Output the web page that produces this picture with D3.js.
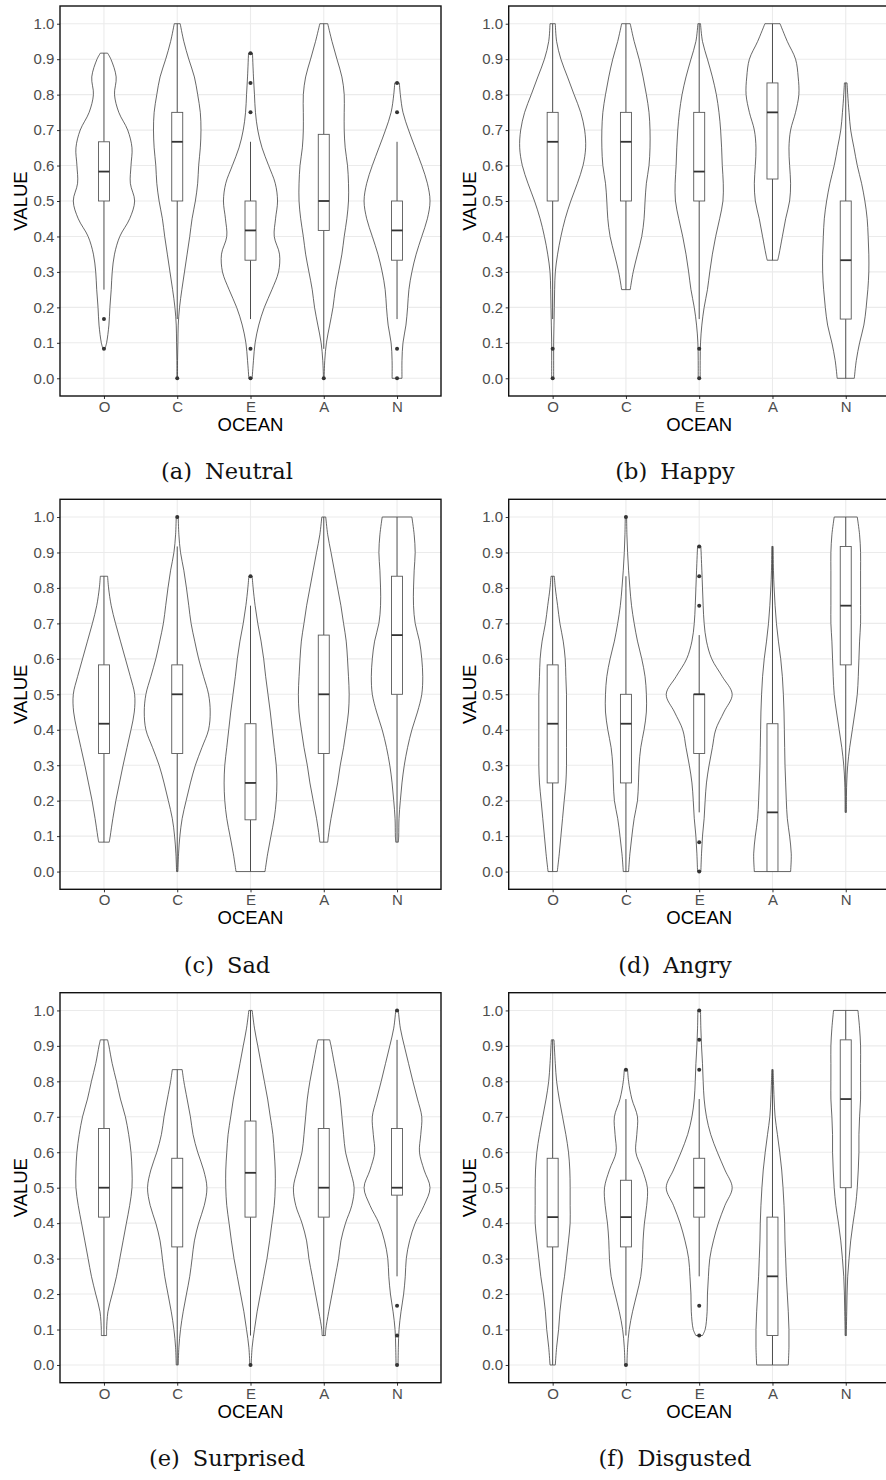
<!DOCTYPE html>
<html>
<head>
<meta charset="utf-8">
<script src="https://cdn.jsdelivr.net/npm/d3@7"></script>
<style>
body { margin: 0; background: #fff; }
</style>
</head>
<body>
<div id="chart"></div>
<script>
// categories and ticks
var traits = ["O", "C", "E", "A", "N"];
var yTicks = [0, 0.1, 0.2, 0.3, 0.4, 0.5, 0.6, 0.7, 0.8, 0.9, 1.0];
var labels = ["(a)", "(b)", "(c)", "(d)", "(e)", "(f)"];
var emotions = ["Neutral", "Happy", "Sad", "Angry", "Surprised", "Disgusted"];

// violin outlines: [value, scaled density 0-100] per trait
// box: [lower whisker, q1, median, q3, upper whisker]
var neutralViolin = [
	[[0.083,3],[0.1,8],[0.15,15],[0.2,18],[0.25,22],[0.3,25],[0.35,32],[0.4,48],[0.45,78],[0.5,93],[0.55,80],[0.6,82],[0.65,85],[0.7,72],[0.75,45],[0.8,32],[0.85,37],[0.9,21],[0.917,11]],
	[[0,1],[0.05,1],[0.1,2],[0.15,3],[0.2,7],[0.25,14],[0.3,22],[0.35,30],[0.4,38],[0.45,45],[0.5,55],[0.55,62],[0.6,65],[0.65,70],[0.7,72],[0.75,70],[0.8,62],[0.85,52],[0.9,35],[0.95,20],[1,9]],
	[[0,5],[0.05,9],[0.1,14],[0.15,25],[0.2,42],[0.25,65],[0.3,85],[0.35,88],[0.4,72],[0.45,76],[0.5,82],[0.55,75],[0.6,55],[0.65,35],[0.7,22],[0.75,15],[0.8,12],[0.85,9],[0.917,6]],
	[[0,1],[0.05,3],[0.1,8],[0.15,18],[0.2,28],[0.25,35],[0.3,45],[0.35,55],[0.4,62],[0.45,70],[0.5,75],[0.55,75],[0.6,72],[0.65,65],[0.7,62],[0.75,62],[0.8,62],[0.85,55],[0.9,40],[0.95,25],[1,12]],
	[[0,15],[0.05,15],[0.1,18],[0.15,27],[0.2,32],[0.25,36],[0.3,45],[0.35,58],[0.4,75],[0.45,92],[0.5,100],[0.55,92],[0.6,75],[0.65,55],[0.7,35],[0.75,18],[0.8,10],[0.833,7]]
];
var neutralBox = [[0.25,0.5,0.583,0.667,0.917],[0.167,0.5,0.667,0.75,1],[0.167,0.333,0.417,0.5,0.667],[0.083,0.417,0.5,0.688,1],[0.167,0.333,0.417,0.5,0.667]];
var neutralOut = [[0.167,0.083],[0],[0.917,0.833,0.75,0.083,0],[0],[0.833,0.75,0.083,0]];

var happyViolin = [
	[[0,3],[0.05,3],[0.1,3],[0.15,4],[0.2,5],[0.25,6],[0.3,8],[0.35,15],[0.4,25],[0.45,38],[0.5,55],[0.55,75],[0.6,92],[0.65,100],[0.7,97],[0.75,85],[0.8,65],[0.85,45],[0.9,25],[0.95,12],[1,8]],
	[[0.25,13],[0.3,22],[0.35,35],[0.4,48],[0.45,55],[0.5,58],[0.55,62],[0.6,70],[0.65,73],[0.7,73],[0.75,70],[0.8,62],[0.85,52],[0.9,40],[0.95,25],[1,13]],
	[[0,3],[0.05,3],[0.1,4],[0.15,8],[0.2,15],[0.25,25],[0.3,32],[0.35,40],[0.4,50],[0.45,62],[0.5,72],[0.55,73],[0.6,70],[0.65,68],[0.7,65],[0.75,60],[0.8,52],[0.85,40],[0.9,25],[0.95,10],[1,4]],
	[[0.333,16],[0.35,20],[0.4,30],[0.45,40],[0.5,52],[0.55,55],[0.6,52],[0.65,50],[0.7,55],[0.75,70],[0.8,80],[0.85,78],[0.9,70],[0.95,45],[1,23]],
	[[0,26],[0.05,32],[0.1,42],[0.15,55],[0.2,62],[0.25,67],[0.3,70],[0.35,70],[0.4,68],[0.45,65],[0.5,58],[0.55,48],[0.6,35],[0.65,25],[0.7,15],[0.75,10],[0.8,6],[0.833,4]]
];
var happyBox = [[0.167,0.5,0.667,0.75,1],[0.25,0.5,0.667,0.75,1],[0.167,0.5,0.583,0.75,1],[0.333,0.562,0.75,0.833,1],[0,0.167,0.333,0.5,0.833]];
var happyOut = [[0.083,0],[],[0.083,0],[],[]];

var sadViolin = [
	[[0.083,16],[0.1,19],[0.15,27],[0.2,36],[0.25,47],[0.3,58],[0.35,70],[0.4,82],[0.45,92],[0.5,93],[0.55,80],[0.6,65],[0.65,50],[0.7,35],[0.75,22],[0.8,14],[0.833,11]],
	[[0,2],[0.05,4],[0.1,8],[0.15,15],[0.2,27],[0.25,40],[0.3,55],[0.35,75],[0.4,95],[0.45,100],[0.5,95],[0.55,80],[0.6,65],[0.65,53],[0.7,42],[0.75,35],[0.8,28],[0.85,20],[0.9,10],[0.95,5],[1,3]],
	[[0,44],[0.05,52],[0.1,62],[0.15,72],[0.2,78],[0.25,80],[0.3,78],[0.35,72],[0.4,66],[0.45,60],[0.5,53],[0.55,46],[0.6,40],[0.65,32],[0.7,22],[0.75,14],[0.8,8],[0.833,5]],
	[[0.083,12],[0.1,14],[0.15,22],[0.2,32],[0.25,42],[0.3,50],[0.35,60],[0.4,68],[0.45,75],[0.5,77],[0.55,75],[0.6,72],[0.65,68],[0.7,60],[0.75,52],[0.8,42],[0.85,32],[0.9,22],[0.95,12],[1,6]],
	[[0.083,4],[0.1,5],[0.15,6],[0.2,10],[0.25,15],[0.3,22],[0.35,32],[0.4,45],[0.45,62],[0.5,75],[0.55,78],[0.6,75],[0.65,68],[0.7,55],[0.75,50],[0.8,50],[0.85,52],[0.9,55],[0.95,52],[1,45]]
];
var sadBox = [[0.083,0.333,0.417,0.583,0.833],[0,0.333,0.5,0.583,0.917],[0,0.146,0.25,0.417,0.75],[0.083,0.333,0.5,0.667,1],[0.083,0.5,0.667,0.833,1]];
var sadOut = [[],[1],[0.833],[],[]];

var angryViolin = [
	[[0,14],[0.05,20],[0.1,25],[0.15,30],[0.2,35],[0.25,40],[0.3,42],[0.35,42],[0.4,42],[0.45,42],[0.5,42],[0.55,40],[0.6,38],[0.65,32],[0.7,22],[0.75,15],[0.8,8],[0.833,5]],
	[[0,8],[0.05,12],[0.1,18],[0.15,25],[0.2,35],[0.25,38],[0.3,40],[0.35,45],[0.4,55],[0.45,62],[0.5,62],[0.55,58],[0.6,48],[0.65,35],[0.7,25],[0.75,17],[0.8,12],[0.85,8],[0.9,5],[0.95,3],[1,2]],
	[[0,5],[0.05,7],[0.1,10],[0.15,15],[0.2,18],[0.25,22],[0.3,30],[0.35,40],[0.4,50],[0.45,75],[0.5,100],[0.55,70],[0.6,38],[0.65,22],[0.7,15],[0.75,12],[0.8,10],[0.85,8],[0.917,5]],
	[[0,55],[0.05,57],[0.1,52],[0.15,45],[0.2,42],[0.25,40],[0.3,38],[0.35,37],[0.4,36],[0.45,35],[0.5,33],[0.55,30],[0.6,25],[0.65,18],[0.7,12],[0.75,8],[0.8,5],[0.85,3],[0.917,2]],
	[[0.167,2],[0.2,2],[0.25,3],[0.3,6],[0.35,12],[0.4,20],[0.45,28],[0.5,35],[0.55,38],[0.6,40],[0.65,42],[0.7,45],[0.75,45],[0.8,45],[0.85,45],[0.9,45],[0.95,42],[1,35]]
];
var angryBox = [[0,0.25,0.417,0.583,0.833],[0,0.25,0.417,0.5,0.833],[0.167,0.333,0.5,0.5,0.667],[0,0,0.167,0.417,0.917],[0.167,0.583,0.75,0.917,1]];
var angryOut = [[],[1],[0.917,0.833,0.75,0.083,0],[],[]];

var surprisedViolin = [
	[[0.083,8],[0.1,8],[0.15,12],[0.2,25],[0.25,38],[0.3,48],[0.35,58],[0.4,68],[0.45,78],[0.5,85],[0.55,85],[0.6,82],[0.65,75],[0.7,65],[0.75,50],[0.8,38],[0.85,25],[0.9,15],[0.917,11]],
	[[0,3],[0.05,5],[0.1,10],[0.15,18],[0.2,28],[0.25,38],[0.3,45],[0.35,52],[0.4,65],[0.45,82],[0.5,90],[0.55,80],[0.6,62],[0.65,48],[0.7,40],[0.75,30],[0.8,20],[0.833,15]],
	[[0,2],[0.05,5],[0.1,12],[0.15,20],[0.2,30],[0.25,40],[0.3,50],[0.35,58],[0.4,65],[0.45,72],[0.5,75],[0.55,75],[0.6,72],[0.65,68],[0.7,60],[0.75,52],[0.8,42],[0.85,32],[0.9,22],[0.95,12],[1,5]],
	[[0.083,5],[0.1,6],[0.15,15],[0.2,25],[0.25,35],[0.3,45],[0.35,52],[0.4,66],[0.45,85],[0.5,92],[0.55,80],[0.6,66],[0.65,60],[0.7,55],[0.75,50],[0.8,42],[0.85,32],[0.9,22],[0.917,18]],
	[[0,3],[0.05,4],[0.1,6],[0.15,12],[0.2,20],[0.25,25],[0.3,28],[0.35,38],[0.4,55],[0.45,82],[0.5,100],[0.55,82],[0.6,68],[0.65,72],[0.7,75],[0.75,62],[0.8,48],[0.85,35],[0.9,22],[0.95,10],[1,4]]
];
var surprisedBox = [[0.083,0.417,0.5,0.667,0.917],[0,0.333,0.5,0.583,0.833],[0.083,0.417,0.542,0.688,1],[0.083,0.417,0.5,0.667,0.917],[0.25,0.479,0.5,0.667,0.917]];
var surprisedOut = [[],[],[0],[],[1,0.167,0.083,0]];

var disgustedViolin = [
	[[0,8],[0.05,12],[0.1,18],[0.15,22],[0.2,28],[0.25,36],[0.3,42],[0.35,48],[0.4,53],[0.45,53],[0.5,53],[0.55,52],[0.6,48],[0.65,40],[0.7,30],[0.75,20],[0.8,12],[0.85,8],[0.917,4]],
	[[0,3],[0.05,5],[0.1,10],[0.15,20],[0.2,33],[0.25,45],[0.3,50],[0.35,52],[0.4,56],[0.45,63],[0.5,65],[0.55,50],[0.6,30],[0.65,33],[0.7,35],[0.75,18],[0.8,8],[0.833,5]],
	[[0.083,10],[0.1,18],[0.15,24],[0.2,25],[0.25,28],[0.3,32],[0.35,43],[0.4,58],[0.45,78],[0.5,100],[0.55,78],[0.6,55],[0.65,35],[0.7,22],[0.75,15],[0.8,12],[0.85,10],[0.9,7],[0.95,5],[1,4]],
	[[0,48],[0.05,50],[0.1,50],[0.15,48],[0.2,45],[0.25,42],[0.3,40],[0.35,38],[0.4,37],[0.45,35],[0.5,32],[0.55,28],[0.6,22],[0.65,15],[0.7,8],[0.75,5],[0.8,3],[0.833,2]],
	[[0.083,2],[0.1,2],[0.15,3],[0.2,4],[0.25,6],[0.3,10],[0.35,15],[0.4,22],[0.45,30],[0.5,35],[0.55,38],[0.6,40],[0.65,40],[0.7,42],[0.75,45],[0.8,45],[0.85,45],[0.9,45],[0.95,42],[1,37]]
];
var disgustedBox = [[0,0.333,0.417,0.583,0.917],[0.083,0.333,0.417,0.521,0.75],[0.25,0.417,0.5,0.583,0.75],[0,0.083,0.25,0.417,0.833],[0.083,0.5,0.75,0.917,1]];
var disgustedOut = [[],[0.833,0],[1,0.917,0.833,0.167,0.083],[],[]];

var violins = [neutralViolin, happyViolin, sadViolin, angryViolin, surprisedViolin, disgustedViolin];
var boxes = [neutralBox, happyBox, sadBox, angryBox, surprisedBox, disgustedBox];
var outliers = [neutralOut, happyOut, sadOut, angryOut, surprisedOut, disgustedOut];

// page layout
var svg = d3.select("#chart")
	.append("svg")
		.attr("width", 886)
		.attr("height", 1480)
		.style("display", "block");

var panelW = 381, panelH = 390;
var colLeft = [60, 508.7];
var rowTop = [6, 499.3, 992.7];
var captionX = [227, 675];

function drawPanel(i) {
	var col = i % 2, row = Math.floor(i / 2);
	var left = colLeft[col], top = rowTop[row];
	var g = svg.append("g")
		.attr("transform", "translate(" + left + "," + top + ")");

	var x = d3.scalePoint()
		.domain(traits)
		.range([0, panelW])
		.padding(0.6);

	var y = d3.scaleLinear()
		.domain([-0.05, 1.05])
		.range([panelH, 0]);

	// violin half width, 100 = 0.45 of the category step
	var w = d3.scaleLinear()
		.domain([0, 100])
		.range([0, 0.45 * x.step()]);

	var boxW = 0.15 * x.step();

	// grid
	g.selectAll(".hgrid")
		.data(yTicks)
		.enter().append("line")
		.attr("x1", 0).attr("x2", panelW)
		.attr("y1", function(d){ return y(d) })
		.attr("y2", function(d){ return y(d) })
		.attr("stroke", "#ebebeb")
		.attr("stroke-width", 1.1);

	g.selectAll(".vgrid")
		.data(traits)
		.enter().append("line")
		.attr("y1", 0).attr("y2", panelH)
		.attr("x1", function(d){ return x(d) })
		.attr("x2", function(d){ return x(d) })
		.attr("stroke", "#ebebeb")
		.attr("stroke-width", 1.1);

	// violins
	traits.forEach(function(t, k){
		var cx = x(t);
		var area = d3.area()
			.y(function(d){ return y(d[0]) })
			.x0(function(d){ return cx - w(d[1]) })
			.x1(function(d){ return cx + w(d[1]) })
			.curve(d3.curveCatmullRom);

		g.append("path")
			.datum(violins[i][k])
			.attr("d", area)
			.attr("fill", "#fff")
			.attr("stroke", "#262626")
			.attr("stroke-width", 0.7);

		var b = boxes[i][k];

		// whiskers
		g.append("line")
			.attr("x1", cx).attr("x2", cx)
			.attr("y1", y(b[3])).attr("y2", y(b[4]))
			.attr("stroke", "#4d4d4d")
			.attr("stroke-width", 1);
		g.append("line")
			.attr("x1", cx).attr("x2", cx)
			.attr("y1", y(b[1])).attr("y2", y(b[0]))
			.attr("stroke", "#4d4d4d")
			.attr("stroke-width", 1);

		// box
		g.append("rect")
			.attr("x", cx - boxW / 2)
			.attr("width", boxW)
			.attr("y", y(b[3]))
			.attr("height", Math.max(0, y(b[1]) - y(b[3])))
			.attr("fill", "#fff")
			.attr("stroke", "#595959")
			.attr("stroke-width", 0.9);

		g.append("line")
			.attr("x1", cx - boxW / 2).attr("x2", cx + boxW / 2)
			.attr("y1", y(b[2])).attr("y2", y(b[2]))
			.attr("stroke", "#333")
			.attr("stroke-width", 1.8);

		// outliers
		g.selectAll(".out" + k)
			.data(outliers[i][k])
			.enter().append("circle")
			.attr("cx", cx)
			.attr("cy", function(d){ return y(d) })
			.attr("r", 2)
			.attr("fill", "#333");
	});

	// axes
	var yAxisCall = d3.axisLeft(y)
		.tickValues(yTicks)
		.tickFormat(d3.format(".1f"))
		.tickSize(3)
		.tickPadding(2.6);
	var ya = g.append("g").call(yAxisCall);

	var xAxisCall = d3.axisBottom(x)
		.tickSize(3)
		.tickPadding(2.4);
	var xa = g.append("g")
		.attr("transform", "translate(0," + panelH + ")")
		.call(xAxisCall);

	[ya, xa].forEach(function(a){
		a.select(".domain").remove();
		a.selectAll(".tick line").attr("stroke", "#333");
		a.selectAll("text")
			.attr("fill", "#4d4d4d")
			.style("font-family", "'Liberation Sans', Arial, sans-serif")
			.style("font-size", "15px");
	});

	// frame
	g.append("rect")
		.attr("width", panelW)
		.attr("height", panelH)
		.attr("fill", "none")
		.attr("stroke", "#111")
		.attr("stroke-width", 1.4);

	// axis titles
	g.append("text")
		.attr("x", panelW / 2)
		.attr("y", panelH + 35)
		.attr("text-anchor", "middle")
		.style("font-family", "'Liberation Sans', Arial, sans-serif")
		.style("font-size", "18.5px")
		.text("OCEAN");

	g.append("text")
		.attr("transform", "rotate(-90)")
		.attr("x", -panelH / 2)
		.attr("y", -32.7)
		.attr("text-anchor", "middle")
		.style("font-family", "'Liberation Sans', Arial, sans-serif")
		.style("font-size", "18.5px")
		.text("VALUE");

	// caption
	var cap = svg.append("text")
		.attr("x", captionX[col])
		.attr("y", top + panelH + 83.3)
		.attr("text-anchor", "middle")
		.style("font-family", "'DejaVu Serif', serif")
		.style("font-size", "22.5px")
		.attr("fill", "#111");
	cap.append("tspan").text(labels[i]);
	cap.append("tspan").attr("dx", 13).text(emotions[i]);
}

d3.range(6).forEach(drawPanel);
</script>
</body>
</html>
